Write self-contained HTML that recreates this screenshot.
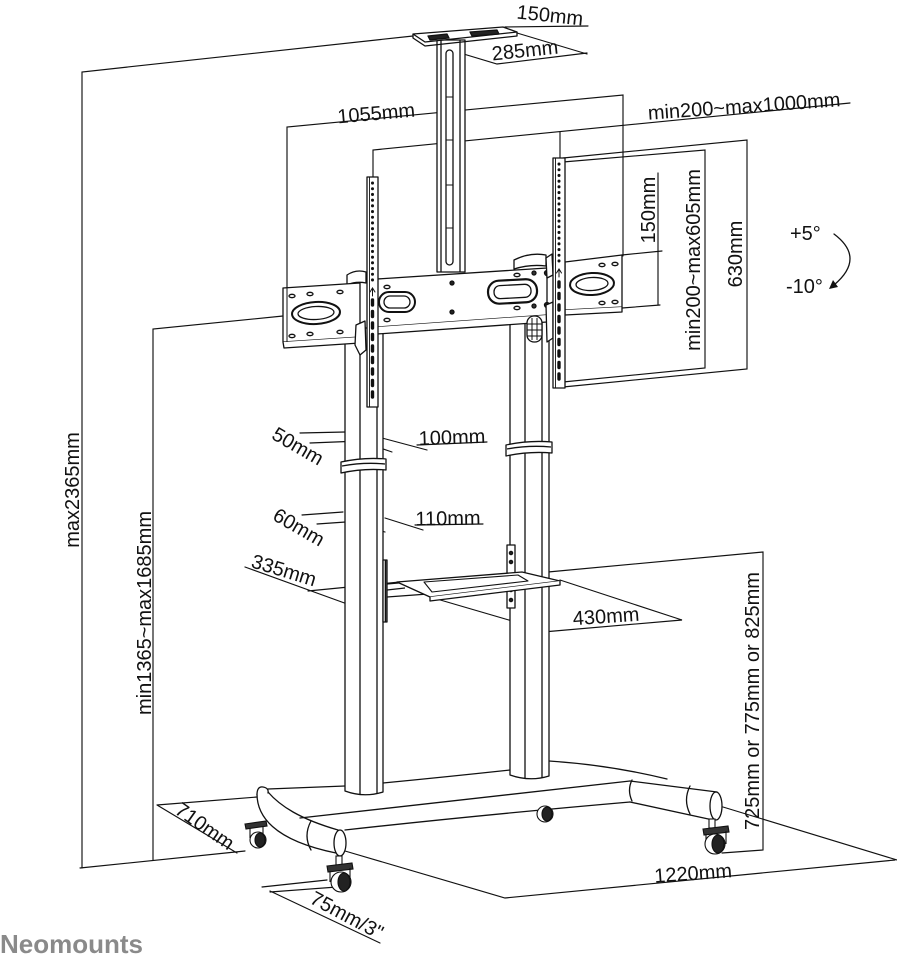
<!DOCTYPE html>
<html><head><meta charset="utf-8"><style>
html,body{margin:0;padding:0;background:#fff;}
svg{display:block}
text{font-family:"Liberation Sans",Arial,sans-serif;font-size:20px;fill:#111;stroke:none}
</style></head><body>
<svg width="897" height="955" viewBox="0 0 897 955" xmlns="http://www.w3.org/2000/svg">
<rect width="897" height="955" fill="#fff"/>

<!-- ===== Dimension lines ===== -->
<g fill="none" stroke="#111" stroke-width="1.15" stroke-linecap="round">
  <path d="M82,868 V72 L413,36"/>
  <path d="M80,868 L245,851"/>
  <path d="M153,860 V329 L283,316"/>
  <path d="M287,290 V127 L623,95 V256"/>
  <path d="M373,182 V150 L850,103"/>
  <path d="M560,158 V132"/>
  <path d="M563,158 L747,140 V369 L563,387"/>
  <path d="M563,162 L705,150 V368 L563,382"/>
  <path d="M622,255 L662,251 M622,308 L660,305 M658,173 V305"/>
  <!-- camera plate dims -->
  <path d="M505,27 L588,26"/>
  <path d="M517,33 L587,54"/>
  <path d="M437,46 L497,64 L587,53"/>
  <!-- 50 / 100 -->
  <path d="M300,433 L345,432 M310,443 L360,441 L392,452 M382,438 L427,450 M417,445 L487,442"/>
  <!-- 60 / 110 -->
  <path d="M302,515 L343,512 M317,524 L360,521 M347,521 L385,532 M385,518 L423,530 M415,525 L483,524"/>
  <!-- 335 -->
  <path d="M245,567 L350,605 M308,591 L400,582"/>
  <!-- 430 -->
  <path d="M560,580 L682,620 L543,632 M430,597 L543,630"/>
  <!-- 725 -->
  <path d="M548,572 L763,552 V850 L722,853"/>
  <!-- 710 -->
  <path d="M157,805 L257,797 M157,805 L237,853"/>
  <!-- 75 -->
  <path d="M262,887 L327,880 M270,892 L337,887 M270,891 L380,943"/>
  <!-- 1220 -->
  <path d="M345,851 L505,898 L895,860 M723,807 L897,860"/>
  <!-- tilt arc -->
  <path d="M834,234 Q866,258 834,285" stroke-width="1.3"/>
</g>
<path d="M829,289 L833,280 L838,287 Z" fill="#111"/>

<!-- ===== Base ===== -->
<g fill="none" stroke="#111" stroke-width="1.3" stroke-linejoin="round" stroke-linecap="round">
  <path d="M268,789 L345,786"/>
  <path d="M383,783 Q445,777 510,770"/>
  <path d="M549,761 Q610,765 667,779"/>
  <path d="M300,818 Q460,800 630,781"/>
  <path d="M345,830 Q480,815 630,802"/>
  <!-- left curved tube -->
  <path d="M257,794 C257,815 272,840 336,853"/>
  <path d="M268,792 C280,806 300,819 338,830"/>
  <path d="M257,795 Q257,786 263,787 Q269,788 268,793" fill="#fff"/>
  <path d="M311,821 Q303,836 311,850"/>
  <ellipse cx="340" cy="843" rx="6" ry="13" fill="#fff"/>
  <!-- right tube -->
  <path d="M630,781 L717,792"/>
  <path d="M630,802 L713,820"/>
  <path d="M632,780 Q627,790 632,801"/>
  <path d="M690,786 Q683,800 690,814"/>
  <ellipse cx="716" cy="806" rx="6" ry="14" fill="#fff"/>
</g>

<!-- casters -->
<g stroke="#111" stroke-width="1.1">
  <!-- back-left -->
  <path d="M245,824 L266,821 L267,826 L246,829Z" fill="#333"/>
  <path d="M250,828 L250,838 M263,826 L263,836" fill="none"/>
  <circle cx="258" cy="840" r="8" fill="#fff"/>
  <ellipse cx="260" cy="840" rx="5" ry="7" fill="#222"/>
  <!-- front-left -->
  <rect x="336" y="856" width="6" height="9" fill="#fff"/>
  <path d="M327,866 L352,863 L353,869 L328,872Z" fill="#333"/>
  <path d="M330,871 L330,882 M350,868 L350,880" fill="none"/>
  <circle cx="341" cy="882" r="10" fill="#fff"/>
  <ellipse cx="344" cy="882" rx="6" ry="9" fill="#222"/>
  <!-- back-right -->
  <circle cx="545" cy="814" r="8" fill="#fff"/>
  <ellipse cx="547" cy="814" rx="5" ry="7" fill="#222"/>
  <!-- front-right -->
  <rect x="709" y="819" width="6" height="9" fill="#fff"/>
  <path d="M703,829 L728,826 L729,832 L704,835Z" fill="#333"/>
  <path d="M706,834 L706,846 M726,831 L726,844" fill="none"/>
  <circle cx="715" cy="844" r="10" fill="#fff"/>
  <ellipse cx="718" cy="844" rx="6" ry="9" fill="#222"/>
</g>

<!-- ===== Pillars ===== -->
<g fill="#fff" stroke="#111" stroke-width="1.3" stroke-linejoin="round">
  <path d="M345,328 V791 Q364,798 383,792 V328 Z"/>
  <path d="M360,330 V795 M377,330 V794" fill="none"/>
  <path d="M510,312 V775 Q530,782 549,776 V312 Z"/>
  <path d="M525,312 V779 M542,312 V778" fill="none"/>
  <!-- collars -->
  <path d="M341,462 Q364,457 386,459 V470 Q364,468 341,473 Z"/>
  <path d="M342,466 Q364,462 385,464" fill="none"/>
  <path d="M506,445 Q529,440 552,442 V453 Q529,451 506,456 Z"/>
  <path d="M507,449 Q529,445 551,447" fill="none"/>
</g>

<!-- ===== Camera plate & column ===== -->
<g stroke="#111" stroke-width="1.3" stroke-linejoin="round">
  <rect x="437" y="40" width="28" height="232" fill="#fff"/>
  <path d="M441,40 V272 M460,40 V272" fill="none"/>
  <rect x="446" y="50" width="7" height="215" rx="3.5" fill="#fff"/>
  <path d="M446,97 H453 M446,140 H453 M446,185 H453 M446,228 H453" stroke-width="1"/>
  <path d="M413,34 L503,27 L517,32 L425,42 Z" fill="#fff"/>
  <path d="M413,34 L413,38 L425,46 L517,36 L517,32" fill="none"/>
  <path d="M428,36 L447,34 L449,38 L430,40Z" fill="#222"/>
  <path d="M470,32 L497,30 L499,34 L472,36Z" fill="#222"/>
</g>

<!-- ===== Crossbar / plates ===== -->
<g stroke="#111" stroke-width="1.3" stroke-linejoin="round">
  <!-- hinge tops -->
  <path d="M347,275 Q356,269 366,272 V283 Q356,281 347,285Z" fill="#fff"/>
  <path d="M514,260 Q530,252 546,255 V266 Q530,264 514,269Z" fill="#fff"/>
  <!-- crossbar -->
  <path d="M377,279 L547,268 L547,315 L377,327 Z" fill="#fff"/>
  <path d="M377,327 L377,334 L547,322 L547,315" fill="#fff"/>
  <rect x="379" y="292" width="36" height="20" rx="10" fill="#fff" stroke-width="2"/>
  <rect x="384" y="296" width="26" height="12" rx="6" fill="none"/>
  <rect x="488" y="280" width="49" height="23" rx="11" fill="#fff" stroke-width="2.2" transform="rotate(-3 512 291)"/>
  <rect x="494" y="285" width="37" height="13" rx="6" fill="none" transform="rotate(-3 512 291)"/>
  <circle cx="452" cy="283" r="2" fill="#222"/>
  <circle cx="452" cy="312" r="2" fill="#222"/>
  <ellipse cx="387" cy="287" rx="3" ry="1.7" fill="none"/>
  <ellipse cx="387" cy="320" rx="3" ry="1.7" fill="none"/>
  <ellipse cx="517" cy="275" rx="3" ry="1.7" fill="none"/>
  <ellipse cx="517" cy="308" rx="3" ry="1.7" fill="none"/>
  <circle cx="534" cy="273" r="2" fill="#333"/>
  <circle cx="534" cy="306" r="2" fill="#333"/>
  <circle cx="547" cy="273" r="2.5" fill="#222"/>
  <circle cx="547" cy="305" r="2.5" fill="#222"/>
  <!-- handle -->
  <rect x="527" y="316" width="15" height="26" rx="7" fill="#fff"/>
  <path d="M532,318 V340 M537,318 V340 M527,324 H542 M527,330 H542 M527,336 H542" fill="none" stroke-width="1"/>
  <!-- left plate -->
  <path d="M283,288 L360,283 L360,337 L283,342 Z" fill="#fff"/>
  <path d="M283,342 L284,348 L360,343 L360,337" fill="#fff"/>
  <path d="M287,288 V342" fill="none" stroke-width="1"/>
  <ellipse cx="316" cy="313" rx="24" ry="11" fill="none" stroke-width="2" transform="rotate(-3 316 313)"/>
  <ellipse cx="316" cy="313" rx="18" ry="6.5" fill="none" transform="rotate(-3 316 313)"/>
  <ellipse cx="292" cy="296" rx="3" ry="1.7" fill="none"/>
  <ellipse cx="310" cy="294" rx="3" ry="1.7" fill="none"/>
  <ellipse cx="340" cy="292" rx="3" ry="1.7" fill="none"/>
  <ellipse cx="292" cy="336" rx="3" ry="1.7" fill="none"/>
  <ellipse cx="310" cy="334" rx="3" ry="1.7" fill="none"/>
  <ellipse cx="340" cy="332" rx="3" ry="1.7" fill="none"/>
  <!-- right plate -->
  <path d="M565,262 L622,255 L622,307 L565,310 Z" fill="#fff"/>
  <path d="M565,310 L565,315 L622,312 L622,307" fill="#fff"/>
  <ellipse cx="592" cy="284" rx="22" ry="11" fill="none" stroke-width="2" transform="rotate(-3 592 284)"/>
  <ellipse cx="592" cy="284" rx="16" ry="6.5" fill="none" transform="rotate(-3 592 284)"/>
  <ellipse cx="602" cy="265" rx="3" ry="1.7" fill="none"/>
  <ellipse cx="615" cy="264" rx="3" ry="1.7" fill="none"/>
  <ellipse cx="602" cy="303" rx="3" ry="1.7" fill="none"/>
  <ellipse cx="615" cy="302" rx="3" ry="1.7" fill="none"/>
  <!-- side brackets -->
  <path d="M356,325 L365,321 L366,350 L360,355 L355,345Z" fill="#fff"/>
  <path d="M546,258 L552,254 L553,275 L547,278Z" fill="#fff"/>
  <path d="M546,305 L553,302 L553,338 L547,342Z" fill="#fff"/>
  <!-- VESA bars -->
  <rect x="367" y="177" width="11" height="230" fill="#fff"/>
  <rect x="553" y="158" width="12" height="230" fill="#fff"/>
</g>
<g fill="none" stroke="#111" stroke-linecap="round">
  <path d="M372.5,183 V283" stroke-width="3" stroke-dasharray="0.1 5.6"/>
  <path d="M372.5,300 V400" stroke-width="3.4" stroke-dasharray="5 6.5"/>
  <path d="M559,164 V262" stroke-width="3" stroke-dasharray="0.1 5.6"/>
  <path d="M559,282 V382" stroke-width="3.4" stroke-dasharray="5 6.5"/>
  <path d="M372.5,296 V289 M370,292 L372.5,288 L375,292" stroke-width="1"/>
  <path d="M559,277 V270 M556.5,273 L559,269 L561.5,273" stroke-width="1"/>
</g>
<rect x="369.5" y="177" width="0.1" height="230" stroke="#111" stroke-width="0.8"/>
<rect x="555.5" y="158" width="0.1" height="230" stroke="#111" stroke-width="0.8"/>

<!-- ===== Shelf ===== -->
<g stroke="#111" stroke-width="1.3" stroke-linejoin="round">
  <rect x="383" y="560" width="4" height="62" fill="#fff"/>
  <path d="M385.5,560 V622" stroke-width="1.6"/>
  <path d="M387,584 L410,582 M387,597 L428,594 M387,590 L405,588" fill="none"/>
  <rect x="507" y="545" width="8" height="63" fill="#fff"/>
  <circle cx="511" cy="553" r="1.6" fill="#222"/>
  <circle cx="511" cy="562" r="1.6" fill="#222"/>
  <circle cx="511" cy="590" r="1.6" fill="#222"/>
  <circle cx="511" cy="600" r="1.6" fill="#222"/>
  <path d="M397,582 L522,572 L560,581 L430,597 Z" fill="#fff"/>
  <path d="M430,597 L430,601 L560,585 L560,581" fill="#fff"/>
  <path d="M424,582 L518,575 L528,581 L432,592 Z" fill="none" stroke-width="1.1"/>
</g>

<!-- ===== Labels ===== -->
<text x="550" y="22" text-anchor="middle" transform="rotate(6 550 15)">150mm</text>
<text x="525" y="57" text-anchor="middle" transform="rotate(-6 525 50)">285mm</text>
<text x="376" y="120" text-anchor="middle" transform="rotate(-5 376 112)">1055mm</text>
<text x="744" y="113" text-anchor="middle" transform="rotate(-4 744 105)">min200~max1000mm</text>
<text transform="translate(655,210) rotate(-90)" text-anchor="middle">150mm</text>
<text transform="translate(700,260) rotate(-90)" text-anchor="middle">min200~max605mm</text>
<text transform="translate(742,254) rotate(-90)" text-anchor="middle">630mm</text>
<text x="790" y="240">+5°</text>
<text x="786" y="293">-10°</text>
<text transform="translate(79,490) rotate(-90)" text-anchor="middle">max2365mm</text>
<text transform="translate(151,613) rotate(-90)" text-anchor="middle">min1365~max1685mm</text>
<text transform="translate(759,701) rotate(-90)" text-anchor="middle">725mm or 775mm or 825mm</text>
<text x="452" y="444" text-anchor="middle" transform="rotate(-2 452 437)">100mm</text>
<text x="448" y="525" text-anchor="middle" transform="rotate(-1 448 518)">110mm</text>
<text transform="translate(298,446) rotate(30)" text-anchor="middle" y="7">50mm</text>
<text transform="translate(299,527) rotate(30)" text-anchor="middle" y="7">60mm</text>
<text transform="translate(284,570) rotate(17)" text-anchor="middle" y="7">335mm</text>
<text x="606" y="623" text-anchor="middle" transform="rotate(-4 606 615)">430mm</text>
<text x="693" y="880" text-anchor="middle" transform="rotate(-4 693 872)">1220mm</text>
<text transform="translate(205,826) rotate(35)" text-anchor="middle" y="7">710mm</text>
<text transform="translate(347,915) rotate(28)" text-anchor="middle" y="7">75mm/3"</text>
<text x="0" y="953" style="font-size:26px;font-weight:bold;fill:#8a8a8a">Neomounts</text>
</svg>
</body></html>
